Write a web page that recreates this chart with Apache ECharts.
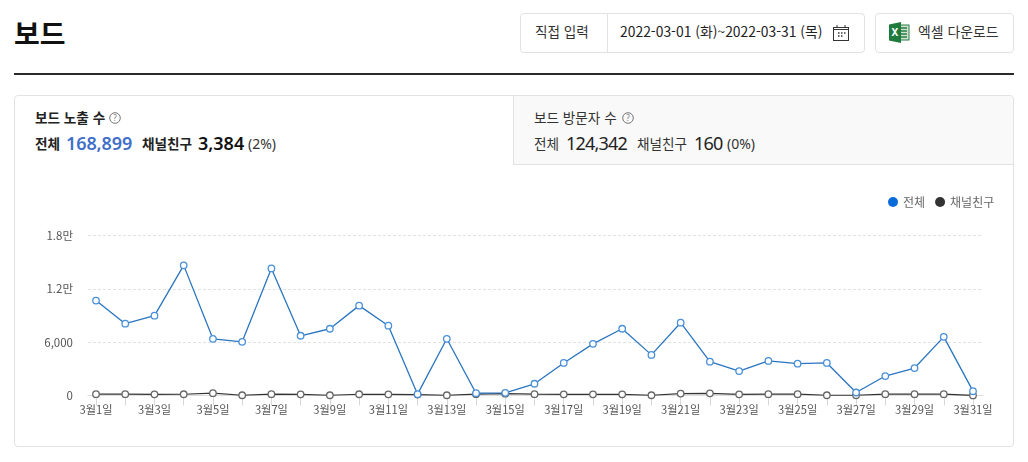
<!DOCTYPE html>
<html lang="ko"><head><meta charset="utf-8">
<script src="https://cdn.jsdelivr.net/npm/echarts@6/dist/echarts.min.js"></script>
<style>
*{box-sizing:border-box}
html,body{margin:0;padding:0;background:#fff;width:1028px;height:462px;overflow:hidden;font-family:"Noto Sans CJK KR","Noto Sans",sans-serif;color:#222}
.abs{position:absolute;white-space:nowrap;line-height:1}
#chart{position:absolute;left:0;top:0;width:1028px;height:462px;z-index:2}
.box{position:absolute;border:1px solid #e2e2e2;border-radius:4px;background:#fff}
.num{font-family:"Noto Sans",sans-serif}
</style></head><body>
<div class="abs" style="left:14px;top:19px;font-size:28px;font-weight:700;color:#111">보드</div>
<div class="box" style="left:520px;top:13px;width:345px;height:40px"></div>
<div class="abs" style="left:607px;top:14px;width:1px;height:38px;background:#e2e2e2"></div>
<div class="abs" style="left:535px;top:25px;font-size:13.6px;color:#333">직접 입력</div>
<div class="abs" style="left:620px;top:25px;font-size:13.9px;color:#222">2022-03-01 (화)~2022-03-31 (목)</div>
<svg class="abs" style="left:832px;top:24px" width="18" height="18" viewBox="0 0 18 18" fill="none" stroke="#333" stroke-width="1"><rect x="1.5" y="3.5" width="15" height="13"/><path d="M1.5 5.5h15M5 1v2.5M13 1v2.5"/><path d="M6 9h1.5M9 9h1.5M12 9h1.5M6 12h1.5M9 12h1.5" stroke-width="1.5"/></svg>
<div class="box" style="left:875px;top:13px;width:139px;height:40px"></div>
<svg class="abs" style="left:889px;top:22px" width="21" height="21" viewBox="0 0 21 21"><rect x="7" y="3" width="13" height="15" fill="#cfe3d2" stroke="#2a7d46"/><path d="M11 6h7M11 9h7M11 12h7M11 15h7" stroke="#2a7d46" stroke-width="1.5"/><path d="M0 2.5 12 0v21L0 18.5z" fill="#1f7a3e"/><text x="2.6" y="14.2" font-size="10" font-weight="700" fill="#fff" font-family="Noto Sans">X</text></svg>
<div class="abs" style="left:918px;top:25px;font-size:13.9px;color:#333">엑셀 다운로드</div>
<div class="abs" style="left:14px;top:73px;width:1000px;height:2px;background:#2b2b2b"></div>

<div class="box" style="left:14px;top:95px;width:1000px;height:352px"></div>
<div class="abs" style="left:513px;top:96px;width:500px;height:69px;background:#f9f9f9;border-left:1px solid #e2e2e2;border-bottom:1px solid #e2e2e2;border-radius:0 4px 0 0"></div>

<div class="abs" style="left:35px;top:111px;font-size:13.6px;font-weight:700;color:#222">보드 노출 수</div>
<svg class="abs" style="left:109px;top:112px" width="12" height="12" viewBox="0 0 12 12"><circle cx="6" cy="6" r="5.3" fill="none" stroke="#777"/><text x="6" y="9" font-size="8" text-anchor="middle" fill="#777" font-family="Noto Sans">?</text></svg>
<div class="abs" style="left:35px;top:137px;font-size:13.6px;font-weight:700;color:#222">전체</div>
<div class="abs num" style="left:66px;top:134px;font-size:18px;font-weight:600;color:#3f6fc9;letter-spacing:-.1px">168,899</div>
<div class="abs" style="left:142px;top:137px;font-size:13.6px;font-weight:700;color:#222">채널친구</div>
<div class="abs num" style="left:198px;top:134px;font-size:18px;font-weight:600;color:#111">3,384</div>
<div class="abs num" style="left:248px;top:137px;font-size:14px;color:#333">(2%)</div>

<div class="abs" style="left:534px;top:111px;font-size:13.6px;color:#333;z-index:1">보드 방문자 수</div>
<svg class="abs" style="left:622px;top:112px;z-index:1" width="12" height="12" viewBox="0 0 12 12"><circle cx="6" cy="6" r="5.3" fill="none" stroke="#777"/><text x="6" y="9" font-size="8" text-anchor="middle" fill="#777" font-family="Noto Sans">?</text></svg>
<div class="abs" style="left:534px;top:137px;font-size:13.6px;color:#333;z-index:1">전체</div>
<div class="abs num" style="left:566px;top:134px;font-size:18px;color:#222;z-index:1;letter-spacing:-.8px">124,342</div>
<div class="abs" style="left:637px;top:137px;font-size:13.6px;color:#333;z-index:1">채널친구</div>
<div class="abs num" style="left:694px;top:134px;font-size:18px;color:#222;z-index:1;letter-spacing:-.8px">160</div>
<div class="abs num" style="left:727px;top:137px;font-size:14px;color:#333;z-index:1">(0%)</div>

<div id="chart"></div>
<script>
const categories = ['3월1일','3월2일','3월3일','3월4일','3월5일','3월6일','3월7일','3월8일','3월9일','3월10일','3월11일','3월12일','3월13일','3월14일','3월15일','3월16일','3월17일','3월18일','3월19일','3월20일','3월21일','3월22일','3월23일','3월24일','3월25일','3월26일','3월27일','3월28일','3월29일','3월30일','3월31일'];
const totalValues = [10680,8075,8980,14640,6380,6040,14300,6720,7510,10110,7850,150,6380,260,300,1320,3660,5810,7510,4570,8190,3810,2750,3890,3580,3660,340,2190,3090,6600,490];
const friendValues = [150,150,130,140,260,30,150,130,30,140,130,100,30,150,200,150,130,130,130,30,220,250,130,150,150,30,30,150,150,150,10];
const yTickLabels = {0:'0',6000:'6,000',12000:'1.2만',18000:'1.8만'};
const seriesNames = ['전체','채널친구'];

const font = '"Noto Sans CJK KR","Noto Sans",sans-serif';
const chart = echarts.init(document.getElementById('chart'));
chart.setOption({
  animation:false,
  legend:{
    left:883, top:191, itemWidth:10, itemHeight:10, itemGap:10, icon:'circle',
    selectedMode:false,
    textStyle:{color:'#666',fontSize:12,fontFamily:font},
    data:[
      {name:seriesNames[0],itemStyle:{color:'#0b6bd8',borderWidth:0}},
      {name:seriesNames[1],itemStyle:{color:'#333333',borderWidth:0}}
    ]
  },
  grid:[
    {left:88,right:45,top:235.5,height:160},
    {left:96,right:55,top:235.5,height:160}
  ],
  xAxis:[
    {gridIndex:0,type:'category',data:categories,show:true,boundaryGap:false,
      axisLine:{show:true,lineStyle:{color:'#dddddd',width:1}},axisTick:{show:false},axisLabel:{show:false}},
    {gridIndex:1,type:'category',data:categories,boundaryGap:false,
      axisLine:{show:false},
      axisTick:{show:true,interval:0,length:10,lineStyle:{color:'#d8d8d8'}},
      axisLabel:{interval:1,margin:9,color:'#555',fontSize:11.2,fontFamily:font,showMinLabel:true,showMaxLabel:true,hideOverlap:false}}
  ],
  yAxis:[
    {gridIndex:0,type:'value',min:0,max:18000,interval:6000,
      axisLine:{show:false},axisTick:{show:false},
      splitLine:{lineStyle:{color:'#e2e2e2',type:[3,2],width:1}},
      axisLabel:{margin:15,color:'#555',fontSize:11.5,fontFamily:font,formatter:v=>yTickLabels[v]}},
    {gridIndex:1,type:'value',min:0,max:18000,interval:6000,show:false}
  ],
  series:[
    {name:seriesNames[1],type:'line',xAxisIndex:1,yAxisIndex:1,data:friendValues,z:3,
      symbol:'circle',symbolSize:6.5,showSymbol:true,
      lineStyle:{color:'#333',width:1.2},
      itemStyle:{color:'#fff',borderColor:'#666',borderWidth:1.3}},
    {name:seriesNames[0],type:'line',xAxisIndex:1,yAxisIndex:1,data:totalValues,z:4,
      symbol:'circle',symbolSize:6.5,showSymbol:true,
      lineStyle:{color:'#2a75c0',width:1.3},
      itemStyle:{color:'#fff',borderColor:'#4a90d9',borderWidth:1.3}}
  ]
});
</script>
</body></html>
